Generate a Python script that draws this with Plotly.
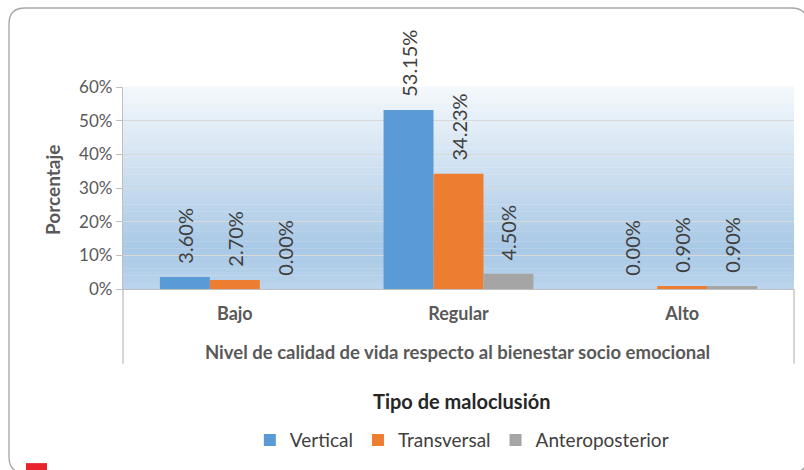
import plotly.graph_objects as go

categories = ["Bajo", "Regular", "Alto"]
vertical = [3.60, 53.15, 0.00]
transversal = [2.70, 34.23, 0.90]
anteroposterior = [0.00, 4.50, 0.90]
series_names = ["Vertical", "Transversal", "Anteroposterior"]
y_ticks = [0, 10, 20, 30, 40, 50, 60]
y_tick_labels = ["0%", "10%", "20%", "30%", "40%", "50%", "60%"]

colors = ["#5B9BD5", "#ED7D31", "#A5A5A5"]
FONT = "Lato, 'Open Sans', sans-serif"
GRAY = "#595959"

fig = go.Figure()
for name, vals, col in zip(series_names, [vertical, transversal, anteroposterior], colors):
    fig.add_trace(go.Bar(
        name=name, x=categories, y=vals, marker=dict(color=col, line=dict(width=0)),
        texttemplate="\u00a0\u00a0%{y:.2f}%", textposition="outside", textangle=-90,
        textfont=dict(family=FONT, size=20, color="#404040"),
        constraintext="none", cliponaxis=False,
    ))

shapes = []
# gradient plot background (bands)
stops = [(0.0, (0xBA, 0xD4, 0xEC)), (0.2, (0xA9, 0xC9, 0xE6)), (1.0, (0xF4, 0xF8, 0xFC))]
N = 60
for i in range(N):
    t = (i + 0.5) / N
    for (a, ca), (b, cb) in zip(stops[:-1], stops[1:]):
        if a <= t <= b:
            f = (t - a) / (b - a)
            c = tuple(round(ca[k] + (cb[k] - ca[k]) * f) for k in range(3))
            break
    shapes.append(dict(type="rect", xref="x domain", yref="y domain",
                       x0=0, x1=1, y0=i / N, y1=(i + 1) / N + 0.002,
                       fillcolor="rgb(%d,%d,%d)" % c, line=dict(width=0), layer="below"))

# category axis side lines
for xd in (0, 1):
    shapes.append(dict(type="line", xref="x domain", yref="y domain", x0=xd, x1=xd,
                       y0=0, y1=-0.37, line=dict(color="#BFBFBF", width=1.3)))

# outer rounded frame
x0, x1, y0, y1 = -0.1699, 1.02, -0.91, 1.391
rx, ry = 16 / 671, 16 / 202
path = (f"M {x0+rx},{y1} L {x1-rx},{y1} Q {x1},{y1} {x1},{y1-ry} L {x1},{y0+ry} "
        f"Q {x1},{y0} {x1-rx},{y0} L {x0+rx},{y0} Q {x0},{y0} {x0},{y0+ry} "
        f"L {x0},{y1-ry} Q {x0},{y1} {x0+rx},{y1} Z")
shapes.append(dict(type="path", xref="paper", yref="paper", path=path,
                   line=dict(color="#A6A6A6", width=1.3), fillcolor="rgba(0,0,0,0)", layer="above"))
# small red mark at bottom-left corner
shapes.append(dict(type="rect", xref="paper", yref="paper", x0=-0.1446, x1=-0.1133,
                   y0=-0.92, y1=-0.862, fillcolor="#E8232B", line=dict(width=0)))

annotations = [
    dict(text="<b>Nivel de calidad de vida respecto al bienestar socio emocional</b>",
         xref="paper", yref="paper", x=0.499, y=-0.312, showarrow=False,
         font=dict(family=FONT, size=18.5, color=GRAY), xanchor="center", yanchor="middle"),
    dict(text="<b>Tipo de maloclusión</b>", xref="paper", yref="paper", x=0.505, y=-0.554,
         showarrow=False, font=dict(family=FONT, size=20, color="#262626"),
         xanchor="center", yanchor="middle"),
    dict(text="<b>Porcentaje</b>", xref="paper", yref="paper", x=-0.1058, y=0.49,
         showarrow=False, textangle=-90, font=dict(family=FONT, size=19, color=GRAY),
         xanchor="center", yanchor="middle"),
]

fig.update_layout(
    width=804, height=470, margin=dict(l=123, r=10, t=87, b=181),
    paper_bgcolor="white", plot_bgcolor="white",
    barmode="group", bargap=0.33, bargroupgap=0,
    font=dict(family=FONT, color=GRAY),
    shapes=shapes, annotations=annotations,
    showlegend=True,
    legend=dict(orientation="h", x=0.505, y=-0.748, xanchor="center", yanchor="middle",
                font=dict(family=FONT, size=19, color="#404040"), bgcolor="rgba(0,0,0,0)",
                itemwidth=30),
)
fig.update_xaxes(showline=True, linecolor="#BFBFBF", linewidth=1.3, ticks="",
                 tickfont=dict(family=FONT, size=18, color=GRAY, weight="bold"),
                 ticklabelstandoff=8, showgrid=False)
fig.update_yaxes(range=[0, 60], tickvals=y_ticks, ticktext=y_tick_labels,
                 showline=True, linecolor="#BFBFBF", linewidth=1.3,
                 ticks="outside", ticklen=6, tickcolor="#BFBFBF",
                 tickfont=dict(family=FONT, size=17, color=GRAY),
                 showgrid=True, gridcolor="#D9D9D9", gridwidth=1.3, zeroline=False)

fig.write_html("out.html", config={"displayModeBar": False},
               post_script="document.body.style.margin='0';")
